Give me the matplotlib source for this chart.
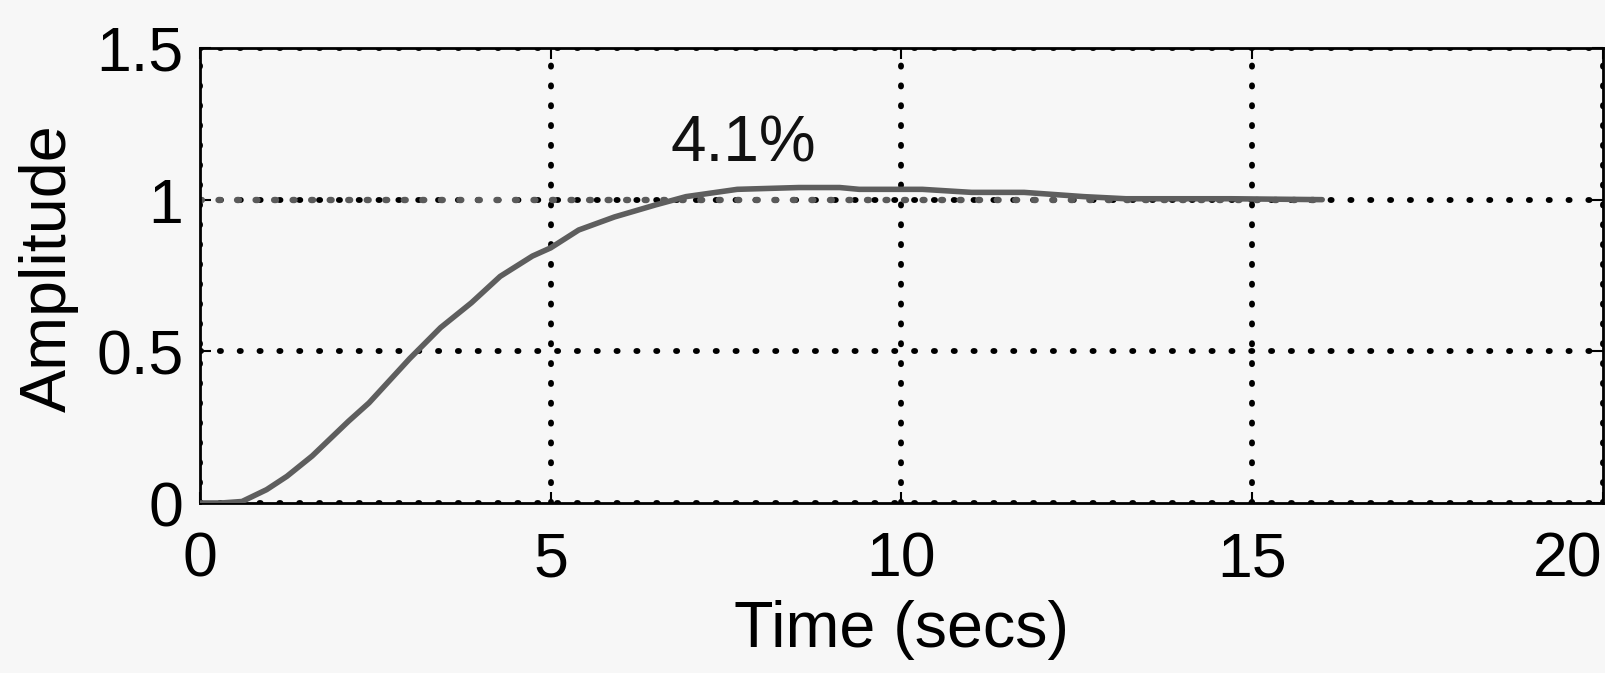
import matplotlib
matplotlib.use("Agg")
import matplotlib.pyplot as plt

# Step response data
time_s = [0.0, 0.3, 0.6, 0.95, 1.24, 1.6, 2.12, 2.41, 2.99, 3.43, 3.87, 4.28, 4.74,
          5.0, 5.4, 5.91, 6.5, 6.93, 7.66, 8.54, 9.12, 9.4, 10.3, 11.0, 11.75,
          12.6, 13.2, 14.7, 16.0]
amplitude = [0.0, 0.0, 0.005, 0.044, 0.088, 0.155, 0.27, 0.33, 0.476, 0.578, 0.66,
             0.747, 0.814, 0.841, 0.9, 0.943, 0.983, 1.01, 1.034, 1.04, 1.04, 1.034,
             1.034, 1.024, 1.024, 1.01, 1.003, 1.003, 1.0]
final_value = 1.0
x_ticks = [0, 5, 10, 15, 20]
y_ticks = [0, 0.5, 1, 1.5]
y_tick_labels = ["0", "0.5", "1", "1.5"]
annotation = "4.1%"

plt.rcParams['font.family'] = ['Liberation Sans', 'DejaVu Sans']
plt.rcParams['lines.dash_capstyle'] = 'round'
bg = '#f7f7f7'
fig = plt.figure(figsize=(16.06, 6.73), dpi=100, facecolor=bg)
ax = fig.add_axes([0.1245, 0.2526, 0.8735, 0.6761], facecolor=bg)

ax.set_xlim(0, 20)
ax.set_ylim(0, 1.5)
ax.set_xticks(x_ticks)
ax.set_yticks(y_ticks)
ax.set_yticklabels(y_tick_labels)

# grid as round dots
ax.grid(True, color='black', linewidth=4.2, linestyle=(0, (0.2, 3.2)))
for gl in ax.get_xgridlines() + ax.get_ygridlines():
    gl.set_dash_capstyle('round')
ax.set_axisbelow(True)

# steady-state dotted gray line
ax.plot([0, time_s[-1]], [final_value, final_value], color='#5a5a5a',
        linewidth=4.6, linestyle=(0, (0.3, 2.6)), dash_capstyle='round',
        zorder=2)
# step response
ax.plot(time_s, amplitude, color='#5e5e5e', linewidth=4.0, zorder=3,
        solid_joinstyle='round', solid_capstyle='round')

ax.text(7.75, 1.125, annotation, fontsize=46, ha='center', va='baseline',
        color='#111111')

for s in ax.spines.values():
    s.set_linewidth(2.0)
    s.set_color('black')
ax.tick_params(direction='in', length=8, width=1.5, top=True, right=True,
               labelsize=45, colors='black')
ax.tick_params(axis='x', pad=20)
ax.tick_params(axis='y', pad=12)
ax.get_xticklabels()[-1].set_horizontalalignment('right')
ax.set_xlabel('Time (secs)', fontsize=46.5)
ax.set_ylabel('Amplitude', fontsize=46.5)
ax.xaxis.set_label_coords(0.5, -0.28)
ax.xaxis.label.set_verticalalignment('center')
ax.yaxis.set_label_coords(-0.1076, 0.515)
ax.yaxis.label.set_verticalalignment('center')

fig.savefig('out.png', dpi=100, facecolor=bg)
